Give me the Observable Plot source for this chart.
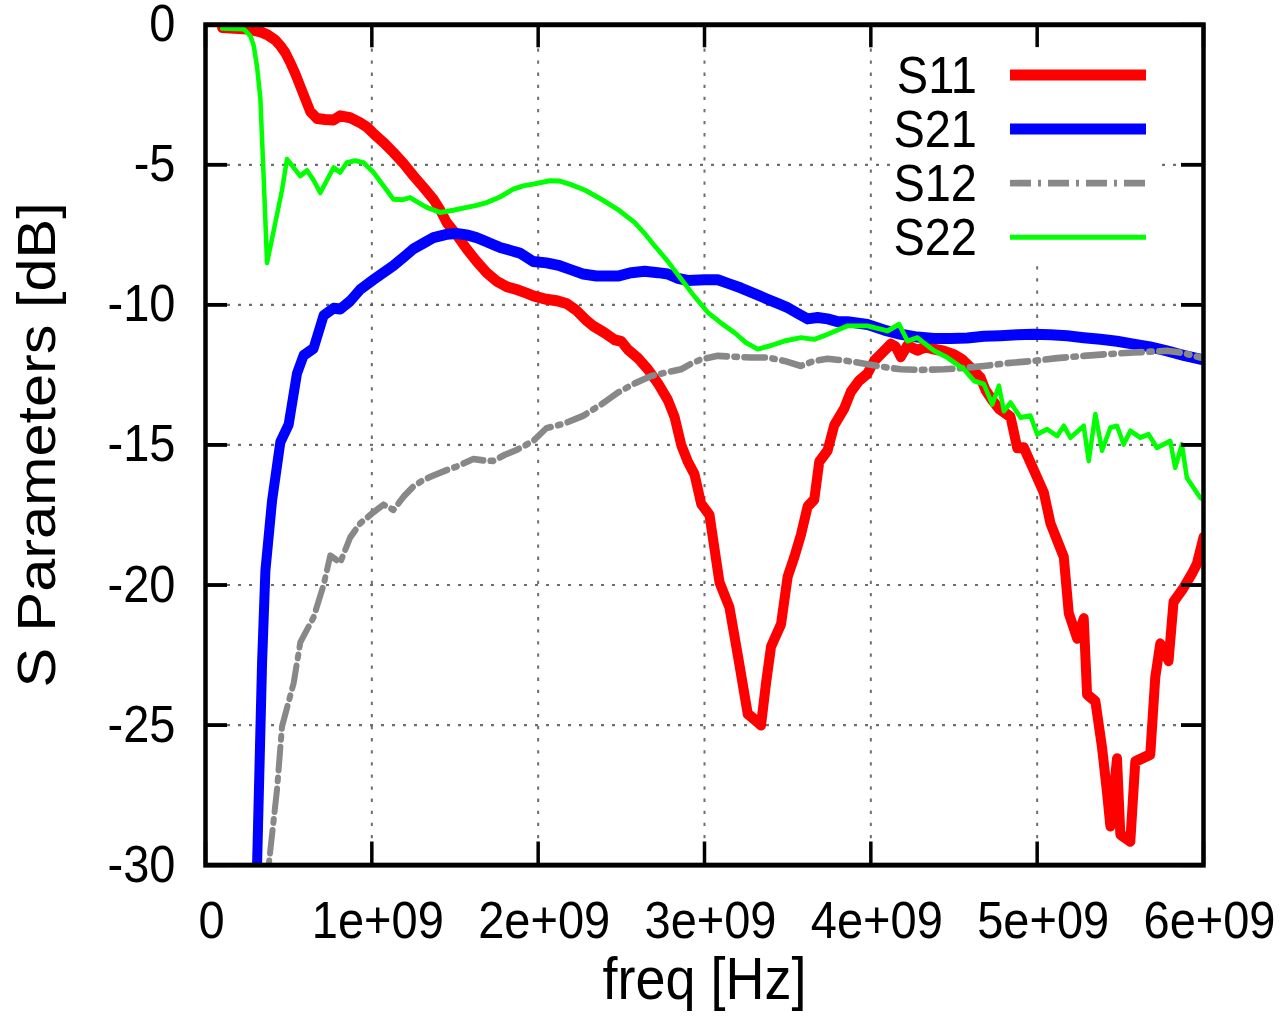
<!DOCTYPE html>
<html><head><meta charset="utf-8">
<script src="https://cdn.jsdelivr.net/npm/d3@7"></script>
<script src="https://cdn.jsdelivr.net/npm/@observablehq/plot@0.6"></script>
<style>
html,body{margin:0;padding:0;background:#fff;overflow:hidden}
#chart{width:1283px;height:1032px;}
#chart svg{transform:scaleY(1.1);transform-origin:0 0;display:block}
</style></head><body><div id="chart"></div>
<script>
// frequencies in GHz, values in dB
const s11F  = [0.10,0.25,0.33,0.37,0.42,0.45,0.48,0.51,0.54,0.57,0.60,0.63,0.67,0.72,0.77,0.81,0.87,0.93,0.97,1.01,1.07,1.13,1.19,1.25,1.31,1.37,1.41,1.45,1.51,1.57,1.63,1.69,1.75,1.81,1.87,1.93,1.97,2.05,2.11,2.17,2.23,2.29,2.33,2.40,2.46,2.50,2.54,2.60,2.66,2.72,2.78,2.82,2.86,2.90,2.94,2.98,3.03,3.06,3.09,3.15,3.20,3.26,3.30,3.34,3.37,3.40,3.46,3.50,3.54,3.58,3.62,3.66,3.69,3.74,3.78,3.84,3.88,3.93,3.98,4.02,4.07,4.12,4.15,4.18,4.22,4.28,4.33,4.38,4.44,4.50,4.55,4.60,4.66,4.69,4.73,4.77,4.84,4.88,4.92,4.98,5.04,5.08,5.12,5.16,5.19,5.24,5.28,5.30,5.35,5.39,5.42,5.44,5.48,5.50,5.56,5.59,5.68,5.71,5.74,5.79,5.82,5.88,5.93,5.96,6.00];
const s11Db = [-0.1,-0.15,-0.25,-0.35,-0.55,-0.75,-1.0,-1.35,-1.75,-2.2,-2.65,-3.1,-3.35,-3.38,-3.4,-3.25,-3.32,-3.5,-3.65,-3.88,-4.2,-4.56,-4.95,-5.39,-5.8,-6.23,-6.6,-7.06,-7.5,-8.0,-8.45,-8.85,-9.15,-9.35,-9.45,-9.58,-9.68,-9.8,-9.85,-9.95,-10.2,-10.55,-10.75,-11.0,-11.25,-11.3,-11.6,-11.9,-12.3,-12.8,-13.4,-14.0,-15.0,-15.6,-16.05,-17.1,-17.5,-18.7,-19.9,-20.8,-22.5,-24.6,-24.8,-25.0,-23.5,-22.2,-21.4,-19.7,-19.0,-18.2,-17.2,-16.95,-15.6,-15.2,-14.3,-13.7,-13.1,-12.7,-12.45,-12.0,-11.7,-11.4,-11.5,-11.85,-11.45,-11.62,-11.5,-11.58,-11.65,-11.78,-11.95,-12.24,-12.6,-13.05,-13.4,-13.7,-14.0,-15.1,-15.1,-15.9,-16.7,-17.8,-18.4,-19.0,-21.0,-21.9,-21.2,-23.9,-24.15,-25.8,-27.4,-28.6,-26.2,-28.9,-29.15,-26.3,-26.05,-23.3,-22.1,-22.7,-20.6,-20.1,-19.6,-19.25,-18.3];

const s21F  = [0.25,0.29,0.31,0.34,0.36,0.40,0.45,0.50,0.55,0.59,0.65,0.71,0.77,0.81,0.87,0.93,1.01,1.07,1.13,1.19,1.25,1.31,1.37,1.45,1.51,1.57,1.63,1.67,1.73,1.77,1.83,1.89,1.97,2.05,2.13,2.20,2.27,2.35,2.48,2.56,2.64,2.72,2.78,2.84,2.90,3.00,3.08,3.15,3.22,3.30,3.38,3.44,3.50,3.56,3.62,3.68,3.74,3.80,3.86,3.98,4.08,4.18,4.28,4.38,4.48,4.58,4.68,4.78,4.88,4.98,5.08,5.18,5.28,5.38,5.48,5.58,5.68,5.78,5.88,5.98,6.00];
const s21Db = [-45,-33,-30.0,-22.8,-19.5,-17.0,-14.9,-14.27,-12.45,-11.8,-11.55,-10.38,-10.12,-10.15,-9.86,-9.45,-9.1,-8.85,-8.6,-8.3,-8.0,-7.8,-7.6,-7.48,-7.45,-7.5,-7.6,-7.7,-7.85,-7.95,-8.05,-8.15,-8.45,-8.5,-8.6,-8.75,-8.9,-8.97,-8.97,-8.85,-8.8,-8.85,-8.9,-9.05,-9.13,-9.1,-9.1,-9.25,-9.4,-9.6,-9.8,-9.95,-10.1,-10.3,-10.5,-10.45,-10.5,-10.6,-10.6,-10.7,-10.9,-11.05,-11.15,-11.2,-11.2,-11.18,-11.12,-11.1,-11.07,-11.05,-11.07,-11.1,-11.17,-11.23,-11.3,-11.4,-11.5,-11.64,-11.8,-11.94,-11.95];

const s12F  = [0.30,0.38,0.43,0.46,0.53,0.57,0.65,0.71,0.75,0.81,0.87,0.93,1.01,1.07,1.13,1.19,1.25,1.31,1.37,1.45,1.51,1.61,1.67,1.73,1.80,1.87,1.97,2.05,2.15,2.27,2.38,2.48,2.58,2.68,2.78,2.86,2.92,2.98,3.08,3.18,3.28,3.38,3.48,3.58,3.66,3.74,3.86,3.98,4.08,4.18,4.30,4.44,4.56,4.68,4.82,4.98,5.12,5.28,5.42,5.58,5.68,5.78,5.88,5.98,6.00];
const s12Db = [-40,-30.0,-27.3,-25.05,-23.5,-22.05,-21.15,-20.0,-18.95,-19.2,-18.3,-17.8,-17.4,-17.13,-17.32,-16.85,-16.48,-16.25,-16.09,-15.9,-15.77,-15.5,-15.55,-15.57,-15.35,-15.18,-14.86,-14.4,-14.25,-13.96,-13.55,-13.13,-12.8,-12.54,-12.4,-12.3,-12.1,-11.94,-11.82,-11.85,-11.88,-11.88,-12.0,-12.18,-12.0,-11.92,-12.0,-12.12,-12.22,-12.3,-12.32,-12.3,-12.25,-12.18,-12.08,-12.0,-11.9,-11.82,-11.76,-11.7,-11.67,-11.64,-11.72,-11.88,-11.9];

const s22F  = [0.10,0.23,0.27,0.29,0.31,0.33,0.35,0.37,0.42,0.46,0.49,0.53,0.57,0.61,0.65,0.69,0.73,0.77,0.81,0.85,0.90,0.95,1.01,1.07,1.13,1.18,1.23,1.28,1.33,1.41,1.49,1.57,1.63,1.69,1.77,1.85,1.91,1.97,2.07,2.13,2.19,2.28,2.38,2.48,2.58,2.64,2.70,2.78,2.86,2.94,3.02,3.10,3.18,3.25,3.32,3.40,3.48,3.58,3.66,3.72,3.78,3.86,3.98,4.10,4.17,4.22,4.28,4.38,4.46,4.56,4.62,4.68,4.73,4.77,4.80,4.84,4.90,4.96,5.00,5.06,5.12,5.16,5.20,5.28,5.31,5.35,5.39,5.44,5.48,5.52,5.56,5.62,5.67,5.72,5.80,5.83,5.87,5.90,5.98,6.00];
const s22Db = [-0.13,-0.15,-0.4,-0.75,-1.5,-2.65,-5.5,-8.5,-7.06,-5.9,-4.8,-5.1,-5.4,-5.2,-5.55,-6.0,-5.55,-5.1,-5.27,-4.92,-4.85,-4.92,-5.27,-5.75,-6.23,-6.25,-6.17,-6.35,-6.52,-6.7,-6.62,-6.52,-6.45,-6.35,-6.15,-5.87,-5.75,-5.69,-5.57,-5.58,-5.69,-5.9,-6.23,-6.6,-7.06,-7.45,-7.89,-8.45,-9.08,-9.7,-10.27,-10.65,-10.99,-11.35,-11.58,-11.45,-11.29,-11.17,-11.23,-11.1,-10.95,-10.75,-10.75,-10.93,-10.69,-11.29,-11.17,-11.64,-11.88,-12.3,-12.71,-12.83,-13.55,-12.89,-13.79,-13.49,-14.02,-13.96,-14.62,-14.44,-14.68,-14.32,-14.74,-14.32,-15.57,-13.9,-15.2,-14.38,-14.32,-14.98,-14.5,-14.74,-14.62,-15.1,-14.86,-15.81,-14.98,-16.17,-16.88,-16.95];

const seriesNames = ["S11","S21","S12","S22"];
const xTicks = [0,1e9,2e9,3e9,4e9,5e9,6e9];
const yTicks = [-30,-25,-20,-15,-10,-5,0];
const xLabel = "freq [Hz]";
const yLabel = "S Parameters [dB]";

const styles = {
  S11: {stroke:"#ff0000", strokeWidth:10},
  S21: {stroke:"#0000ff", strokeWidth:10},
  S12: {stroke:"#888888", strokeWidth:6, strokeDasharray:"21,7,3,7"},
  S22: {stroke:"#00ff00", strokeWidth:4.5}
};
const raw = {S11:[s11F,s11Db], S21:[s21F,s21Db], S12:[s12F,s12Db], S22:[s22F,s22Db]};
const rows = name => raw[name][0].map((f,i)=>({name, freq:f*1e9, db:raw[name][1][i]}));

const W = 1283, H = 938, mL = 205, mR = 80, mT = 22, mB = 152;
const fw = W - mL - mR, fh = H - mT - mB;
const tickV = 21, tickH = 22;
const grid = {stroke:"#555", strokeWidth:2, strokeDasharray:"3,8", strokeOpacity:0.85};

const chart = Plot.plot({
  width: W, height: H,
  marginLeft: mL, marginRight: mR, marginTop: mT, marginBottom: mB,
  style: {fontFamily: "'Liberation Sans', Arial, sans-serif", fontSize: "47px", background: "white", color: "black", overflow: "visible"},
  x: {domain: [0, 6e9]},
  y: {domain: [-30, 0]},
  marks: [
    Plot.ruleX(xTicks.slice(1,-1), {...grid}),
    Plot.ruleY(yTicks.slice(1,-1), {...grid}),
    ...seriesNames.map(n => Plot.line(rows(n), {x:"freq", y:"db", ...styles[n], strokeLinejoin:"round", clip:true})),
    Plot.ruleX(xTicks, {insetBottom: fh - tickV, stroke:"black", strokeWidth:3.5}),
    Plot.ruleX(xTicks, {insetTop: fh - tickV, stroke:"black", strokeWidth:3.5}),
    Plot.ruleY(yTicks, {insetRight: fw - tickH, stroke:"black", strokeWidth:3.5}),
    Plot.ruleY(yTicks, {insetLeft: fw - tickH, stroke:"black", strokeWidth:3.5}),
    Plot.frame({stroke:"black", strokeWidth:4.5}),
    Plot.axisX({ticks: xTicks, tickSize: 0, tickPadding: 32.5, dx: 6, label: null,
      tickFormat: d => d === 0 ? "0" : `${d/1e9}e+09`}),
    Plot.axisY({ticks: yTicks, tickSize: 0, tickPadding: 30, label: null, tickFormat: d => String(d)}),
    Plot.text([xLabel], {frameAnchor: "bottom", textAnchor: "middle", dy: 122, fontSize: 54, fill: "black"}),
    Plot.text([yLabel], {frameAnchor: "left", textAnchor: "middle", rotate: -90, dx: -167.5, fontSize: 54, fill: "black"})
  ]
});
document.getElementById("chart").appendChild(chart);

// legend (inside plot, top right)
const svg = d3.select(chart);
const lg = svg.append("g").attr("font-size", 47).attr("fill", "black");
lg.append("rect").attr("x", 893).attr("y", 43).attr("width", 267).attr("height", 195).attr("fill", "white");
seriesNames.forEach((n, i) => {
  const y = 68.2 + i * 49.15;
  lg.append("text").attr("x", 977).attr("y", y).attr("dy", "0.35em").attr("text-anchor", "end").text(n);
  const s = styles[n];
  const ln = lg.append("line").attr("x1", 1010).attr("x2", 1146).attr("y1", y).attr("y2", y)
    .attr("stroke", s.stroke).attr("stroke-width", s.strokeWidth);
  if (s.strokeDasharray) ln.attr("stroke-dasharray", s.strokeDasharray);
});
</script></body></html>
